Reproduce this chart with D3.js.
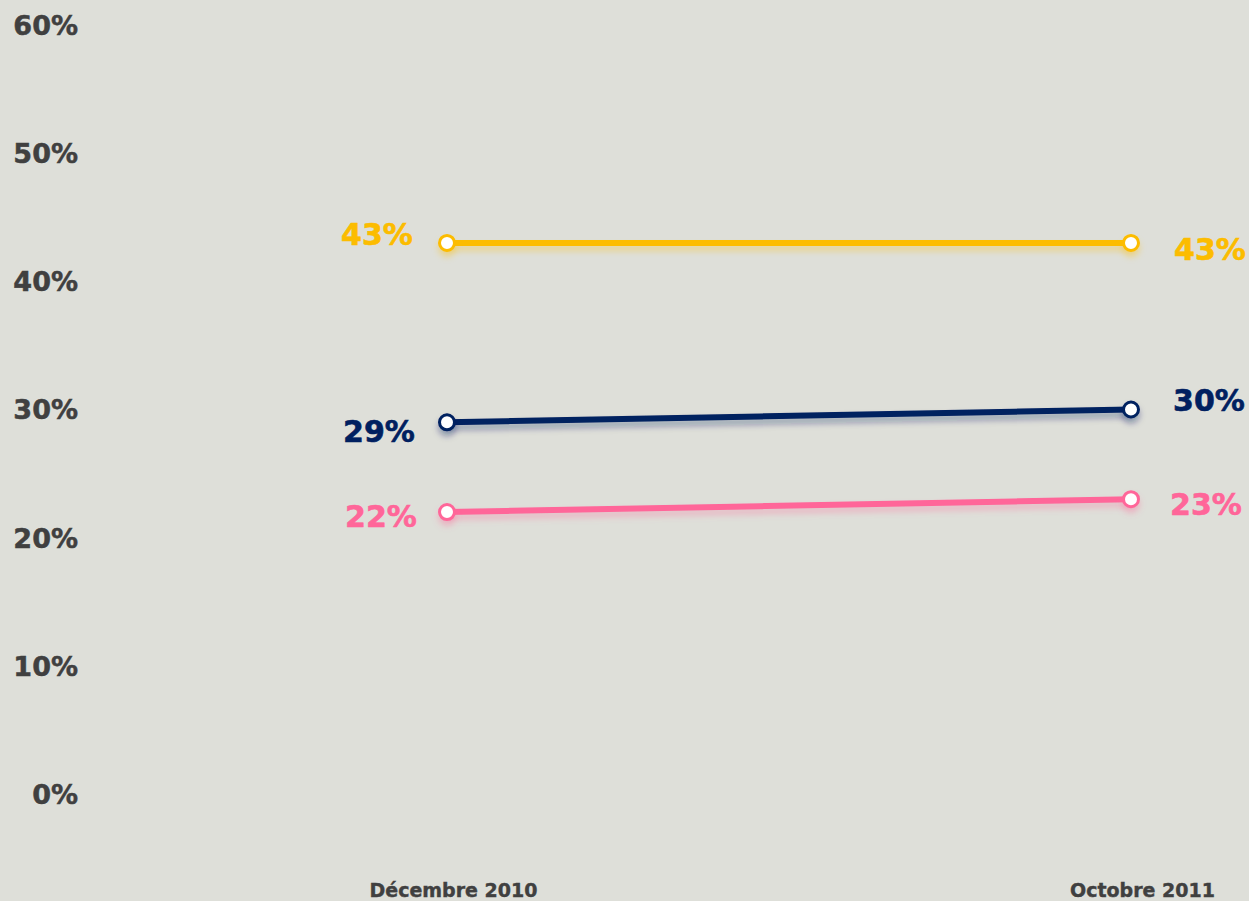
<!DOCTYPE html>
<html><head><meta charset="utf-8">
<script src="https://cdn.jsdelivr.net/npm/d3@7"></script>
<style>
html,body{margin:0;padding:0;background:#dedfd9;}
svg{display:block;}
text{font-family:"DejaVu Sans",Verdana,sans-serif;font-weight:bold;}
</style></head><body>
<svg id="chart" width="1249" height="901"></svg>
<script>
const periods = ["Décembre 2010", "Octobre 2011"];
const seriesNames = ["jaune", "bleu", "rose"];
const seriesColors = ["#fcbc00", "#002060", "#ff6699"];
const valuesJaune = [43, 43];
const valuesBleu = [29, 30];
const valuesRose = [22, 23];
const yTicks = [0, 10, 20, 30, 40, 50, 60];

const series = [
  {name: seriesNames[0], color: seriesColors[0], values: valuesJaune,
   labelDx: [-70, 79], labelDy: [-8, 7]},
  {name: seriesNames[1], color: seriesColors[1], values: valuesBleu,
   labelDx: [-68, 78], labelDy: [9, -9]},
  {name: seriesNames[2], color: seriesColors[2], values: valuesRose,
   labelDx: [-66, 75], labelDy: [4, 5]}
];

const svg = d3.select("#chart");
const y = d3.scaleLinear().domain([0, 60]).range([794, 25]);
const x = d3.scalePoint().domain(periods).range([447, 1131]);

// soft coloured shadow under each series
const defs = svg.append("defs");
series.forEach(s => {
  const f = defs.append("filter").attr("id", "shadow-" + s.name)
    .attr("filterUnits", "userSpaceOnUse")
    .attr("x", 0).attr("y", 0).attr("width", 1249).attr("height", 901);
  f.append("feDropShadow").attr("dx", 0).attr("dy", 5).attr("stdDeviation", 3)
    .attr("flood-color", s.color).attr("flood-opacity", 0.35);
});

// y axis labels
const yAxis = d3.axisLeft(y).tickValues(yTicks).tickFormat(d => d + "%").tickSize(0).tickPadding(0);
const ga = svg.append("g").attr("transform", "translate(78,0)").call(yAxis);
ga.select(".domain").remove();
ga.selectAll("text").attr("fill", "#404040").attr("font-size", 27)
  .attr("stroke", "#404040").attr("stroke-width", 0.5)
  .attr("font-family", "DejaVu Sans").attr("font-weight", "bold").attr("dy", "0.35em");

// x axis labels
const xAxis = d3.axisBottom(x).tickSize(0).tickPadding(0);
const gx = svg.append("g").attr("transform", "translate(0,890)").call(xAxis);
gx.select(".domain").remove();
gx.selectAll("text").attr("fill", "#404040").attr("font-size", 19)
  .attr("stroke", "#404040").attr("stroke-width", 0.4)
  .attr("font-family", "DejaVu Sans").attr("font-weight", "bold").attr("dy", "0.35em")
  .attr("dx", (d, i) => i === 0 ? 6 : 11);

const line = d3.line().x((d, i) => x(periods[i])).y(d => y(d));

series.forEach(s => {
  const g = svg.append("g");
  g.append("path").datum(s.values).attr("d", line)
    .attr("fill", "none").attr("stroke", s.color).attr("stroke-width", 6)
    .attr("filter", "url(#shadow-" + s.name + ")");
  g.selectAll("circle").data(s.values).join("circle")
    .attr("cx", (d, i) => x(periods[i])).attr("cy", d => y(d)).attr("r", 7.5)
    .attr("fill", "#fff").attr("stroke", s.color).attr("stroke-width", 3)
    .attr("filter", "url(#shadow-" + s.name + ")");
  g.selectAll("text.lbl").data(s.values).join("text").attr("class", "lbl")
    .attr("x", (d, i) => x(periods[i]) + s.labelDx[i])
    .attr("y", (d, i) => y(d) + s.labelDy[i])
    .attr("dy", "0.35em").attr("text-anchor", "middle")
    .attr("font-size", 30).attr("fill", s.color)
    .attr("stroke", s.color).attr("stroke-width", 0.6)
    .text(d => d + "%");
});
</script>
</body></html>
